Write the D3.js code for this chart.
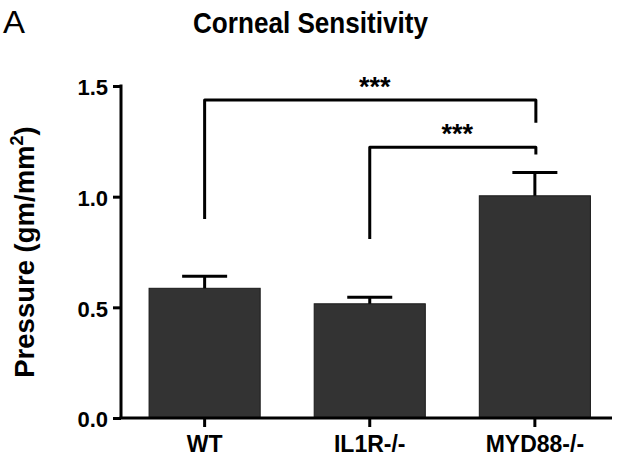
<!DOCTYPE html>
<html>
<head>
<meta charset="utf-8">
<script src="https://cdn.jsdelivr.net/npm/d3@7"></script>
<style>
  html, body { margin: 0; padding: 0; background: #fff; }
  svg { display: block; }
  text { font-family: "Liberation Sans", Arial, sans-serif; fill: #000; }
</style>
</head>
<body>
<svg id="chart" width="625" height="459"></svg>
<script>
// ---- data ----
const categories = ["WT", "IL1R-/-", "MYD88-/-"];
const means = [0.586, 0.516, 1.004];
const sems = [0.055, 0.030, 0.105];
const yTicks = [0.0, 0.5, 1.0, 1.5];
// significance brackets
const bracketFrom = ["WT", "IL1R-/-"];
const bracketTo = ["MYD88-/-", "MYD88-/-"];
const bracketLevel = [1.437, 1.223];
const bracketLeftEnd = [0.899, 0.809];
const bracketRightEnd = [1.334, 1.19];
const bracketLabel = ["***", "***"];

// ---- layout ----
const svg = d3.select("#chart");
const axisLeftX = 121, axisBottomY = 418, axisTopY = 86, axisRightX = 612;

const x = d3.scaleBand()
  .domain(categories)
  .range([axisLeftX, 618.5])
  .paddingInner(0.327)
  .paddingOuter(0.17);
const y = d3.scaleLinear().domain([0, 1.5]).range([axisBottomY, axisTopY]);

// title & panel letter
svg.append("text").attr("x", 3).attr("y", 33)
  .attr("textLength", 22).attr("lengthAdjust", "spacingAndGlyphs")
  .style("font-size", "31px").text("A");
svg.append("text").attr("x", 193).attr("y", 33)
  .attr("textLength", 235).attr("lengthAdjust", "spacingAndGlyphs")
  .style("font-size", "30px").style("font-weight", "bold")
  .text("Corneal Sensitivity");

// bars
const bars = categories.map((c, i) => ({ c, m: means[i], s: sems[i] }));
svg.append("g").selectAll("rect").data(bars).join("rect")
  .attr("x", d => x(d.c))
  .attr("y", d => y(d.m))
  .attr("width", x.bandwidth())
  .attr("height", d => y(0) - y(d.m))
  .attr("fill", "#333333")
  .attr("stroke", "#1a1a1a")
  .attr("stroke-width", 1);

// error bars (upper only)
const capW = 45;
const eg = svg.append("g").attr("stroke", "#000").attr("stroke-width", 3);
eg.selectAll("line.v").data(bars).join("line").attr("class", "v")
  .attr("x1", d => x(d.c) + x.bandwidth() / 2)
  .attr("x2", d => x(d.c) + x.bandwidth() / 2)
  .attr("y1", d => y(d.m))
  .attr("y2", d => y(d.m + d.s));
eg.selectAll("line.c").data(bars).join("line").attr("class", "c")
  .attr("x1", d => x(d.c) + x.bandwidth() / 2 - capW / 2)
  .attr("x2", d => x(d.c) + x.bandwidth() / 2 + capW / 2)
  .attr("y1", d => y(d.m + d.s))
  .attr("y2", d => y(d.m + d.s));

// y axis
const yAxis = d3.axisLeft(y).tickValues(yTicks).tickFormat(d3.format(".1f"))
  .tickSize(8).tickSizeOuter(0).tickPadding(5);
const gy = svg.append("g").attr("transform", `translate(${axisLeftX},0)`).call(yAxis);
gy.select(".domain").attr("stroke-width", 3).attr("d", `M0,${axisTopY - 1.5}V${axisBottomY}`);
gy.selectAll(".tick line").attr("stroke-width", 3);
gy.selectAll(".tick text")
  .style("font-size", "22px").style("font-weight", "bold")
  .attr("dy", "0.4em");

// x axis
const xAxis = d3.axisBottom(x).tickSize(9).tickSizeOuter(0).tickPadding(8);
const gx = svg.append("g").attr("transform", `translate(0,${axisBottomY})`).call(xAxis);
gx.select(".domain").attr("stroke-width", 3).attr("d", `M${axisLeftX - 1.5},0H${axisRightX}`);
gx.selectAll(".tick line").attr("stroke-width", 3);
gx.selectAll(".tick text")
  .style("font-size", "23px").style("font-weight", "bold")
  .attr("dy", "0.74em");
svg.selectAll(".tick text").attr("font-family", null)
  .style("font-family", '"Liberation Sans", Arial, sans-serif');

// y axis title
const yt = svg.append("text")
  .attr("transform", "translate(34,252) rotate(-90)")
  .attr("text-anchor", "middle")
  .style("font-size", "27.5px").style("font-weight", "bold");
yt.append("tspan").text("Pressure (gm/mm");
yt.append("tspan").attr("dy", "-11").style("font-size", "18px").text("2");
yt.append("tspan").attr("dy", "11").text(")");

// significance brackets
const brackets = bracketFrom.map((f, i) => ({
  f, t: bracketTo[i], lv: bracketLevel[i], le: bracketLeftEnd[i], re: bracketRightEnd[i], lab: bracketLabel[i]
}));
const cx = c => x(c) + x.bandwidth() / 2;
const bg = svg.append("g");
bg.selectAll("path").data(brackets).join("path")
  .attr("fill", "none").attr("stroke", "#000").attr("stroke-width", 3)
  .attr("stroke-linejoin", "round")
  .attr("d", d => `M${cx(d.f)},${y(d.le)}V${y(d.lv)}H${cx(d.t) + 1}V${y(d.re)}`);
bg.selectAll("text").data(brackets).join("text")
  .attr("x", d => (cx(d.f) + cx(d.t)) / 2 + 5)
  .attr("y", d => y(d.lv) - 4)
  .attr("text-anchor", "middle")
  .style("font-size", "27px").style("font-weight", "bold")
  .text(d => d.lab);
</script>
</body>
</html>
